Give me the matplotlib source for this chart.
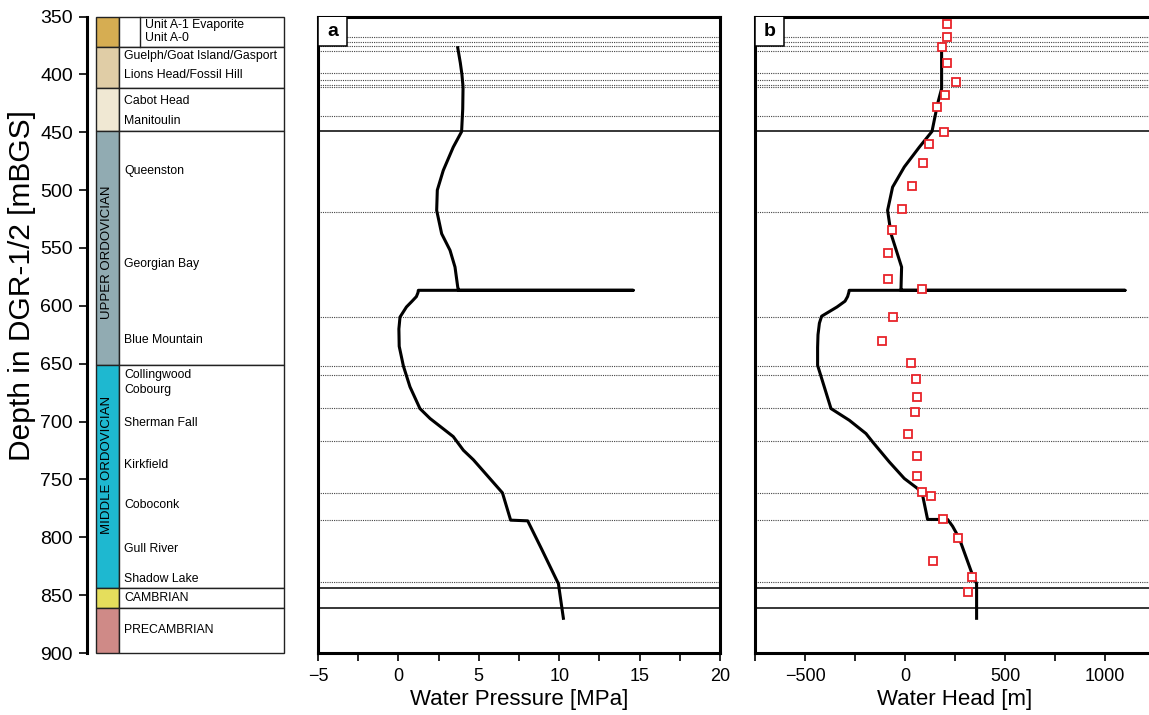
import matplotlib
matplotlib.use("Agg")
import matplotlib.pyplot as plt
from matplotlib.patches import Rectangle
from matplotlib.ticker import MultipleLocator

plt.rcParams['font.family'] = ['Liberation Sans', 'DejaVu Sans']

# ---------------- data ----------------
# stratigraphic units: (top, bottom, colour)
unit_tops = [350, 376, 412, 449, 651, 844, 861]
unit_bottoms = [376, 412, 449, 651, 844, 861, 900]
unit_colors = ['#D6AD52', '#E0CDA6', '#F0E8D3', '#91ABB2', '#1EB8D0', '#E5DE5C', '#CF8A87']

formation_names = ['Unit A-1 Evaporite', 'Unit A-0', 'Guelph/Goat Island/Gasport',
                   'Lions Head/Fossil Hill', 'Cabot Head', 'Manitoulin', 'Queenston',
                   'Georgian Bay', 'Blue Mountain', 'Collingwood', 'Cobourg',
                   'Sherman Fall', 'Kirkfield', 'Coboconk', 'Gull River',
                   'Shadow Lake', 'CAMBRIAN', 'PRECAMBRIAN']
formation_depths = [357, 368.4, 384.5, 400.7, 423.1, 440.4, 483.6, 563.6, 629.9,
                    659.7, 673, 701.2, 737.9, 772.2, 810.5, 836.4, 852.3, 880.2]

system_names = ['UPPER ORDOVICIAN', 'MIDDLE ORDOVICIAN']
system_depths = [553.8, 737.7]

# formation contacts drawn across both panels
solid_contacts = [449, 843.7, 861]
dotted_contacts = [368, 372, 375.6, 379.4, 398.6, 405.3, 409.5, 411, 436.1, 519,
                   609.7, 652, 659.4, 688.2, 716.4, 761.6, 785.2, 838.8]

# (a) simulated water pressure profile
pressure_depth = [377, 390, 400, 411, 430, 449.5, 462.9, 483, 500, 517.5, 537.7, 552,
                  566.5, 583.8, 586.6, 586.6, 586.6, 588.5, 592, 596, 601, 609.7, 620,
                  635, 652, 670, 688.8, 697.4, 713, 724.8, 733, 761.6, 785.2, 785.8,
                  810, 837, 840, 870]
pressure_mpa = [3.69, 3.85, 3.95, 4.02, 4.0, 3.93, 3.41, 2.79, 2.42, 2.38, 2.69, 3.21,
                3.52, 3.69, 3.75, 14.6, 1.24, 1.22, 1.12, 0.85, 0.5, 0.1, 0.03,
                0.05, 0.31, 0.72, 1.34, 1.97, 3.41, 4.04, 4.66, 6.47, 6.98, 8.04,
                8.9, 9.84, 9.95, 10.26]

# (b) simulated water head profile
head_depth = [379.4, 412.4, 425.4, 449.3, 462.9, 480, 497.4, 517.5, 537.7, 566.5,
              585.2, 586.6, 586.6, 586.6, 588.5, 592, 596, 601, 609, 615, 625, 636,
              651.4, 688.8, 698.9, 710.4, 717.6, 734.9, 749.2, 757.9, 763.7, 784.6,
              784.6, 790.5, 801, 832.8, 840, 870]
head_m = [183, 183, 163, 135, 71.5, -3.5, -62, -87, -70, -17, -20, -20, 1100, -279,
          -281, -287, -300, -340, -417, -428, -435, -437, -437, -370, -278.5, -195,
          -162, -78.5, -3.5, 63, 88, 113, 213, 238, 271.5, 338, 358, 358]

# (b) measured water heads
obs_depth = [356.9, 367.9, 376.5, 390, 406.7, 418, 428, 449.6, 460.3, 476.3, 496.5,
             516.7, 534.8, 554, 577, 585.2, 609.7, 630.6, 649.4, 662.9, 678.4, 691.7,
             710.7, 730.2, 747, 760.5, 764.5, 784.6, 801, 820.6, 834.1, 847.6]
obs_head = [208, 208, 187, 208, 253, 198, 160, 193, 120, 88, 33, -13.5, -67, -83.5,
            -83.5, 85, -62, -117, 28, 55, 58, 50, 16.5, 61.5, 61.5, 85, 128, 191.5,
            263, 141.5, 335, 316.5]

# ---------------- layout ----------------
W, H = 1149, 715
fig = plt.figure(figsize=(W / 100, H / 100), dpi=100)

top_px, bot_px = 16.5, 653


def axes_px(x0, x1):
    return fig.add_axes([x0 / W, 1 - bot_px / H, (x1 - x0) / W, (bot_px - top_px) / H])


SPINE_LW = 2.2
DEPTH_LIM = (900, 350)

# ---- stratigraphic column ----
axc = axes_px(87, 290)
axc.set_xlim(87, 290)
axc.set_ylim(*DEPTH_LIM)
for s in ['top', 'right', 'bottom']:
    axc.spines[s].set_visible(False)
axc.spines['left'].set_linewidth(SPINE_LW)
axc.set_xticks([])
axc.yaxis.set_major_locator(MultipleLocator(50))
axc.tick_params(axis='y', direction='out', length=6, width=1.2, labelsize=14, pad=4)
axc.set_ylabel('Depth in DGR-1/2 [mBGS]', fontsize=21.5)
axc.yaxis.set_label_coords(-0.25, 0.578)

strip_x0, strip_x1, box_x1 = 96, 119, 284
for t, b, c in zip(unit_tops, unit_bottoms, unit_colors):
    axc.add_patch(Rectangle((strip_x0, t), strip_x1 - strip_x0, b - t, facecolor=c,
                            edgecolor='#222222', lw=1.0, clip_on=False))
    axc.add_patch(Rectangle((strip_x1, t), box_x1 - strip_x1, b - t, facecolor='white',
                            edgecolor='#222222', lw=1.0, clip_on=False))
# small sub-cell beside Unit A
axc.plot([140, 140], [unit_tops[0], unit_bottoms[0]], color='#222222', lw=1.0, clip_on=False)

for name, d in zip(formation_names, formation_depths):
    x = 145 if name.startswith('Unit A') else 124
    axc.text(x, d, name, fontsize=8.8, va='center', ha='left')

for name, d in zip(system_names, system_depths):
    axc.text((strip_x0 + strip_x1) / 2, d, name, fontsize=9.5, rotation=90,
             va='center', ha='center')


def style_panel(ax, label, box_w_frac, box_h_frac):
    ax.set_ylim(*DEPTH_LIM)
    ax.tick_params(axis='y', left=False, labelleft=False)
    ax.tick_params(axis='x', which='both', direction='out', length=5.5, width=1.2,
                   labelsize=13, pad=5)
    for s in ax.spines.values():
        s.set_linewidth(SPINE_LW)
    for d in solid_contacts:
        ax.axhline(d, color='black', lw=1.1, zorder=1)
    for d in dotted_contacts:
        ax.axhline(d, color='#444444', lw=0.8, ls=(0, (1, 1)), zorder=1)
    ax.add_patch(Rectangle((0, 1 - box_h_frac), box_w_frac, box_h_frac,
                           transform=ax.transAxes, facecolor='white', edgecolor='black',
                           lw=1.1, zorder=4))
    ax.text(box_w_frac / 2, 1 - box_h_frac / 2, label, transform=ax.transAxes,
            fontsize=14, fontweight='bold', ha='center', va='center', zorder=5)


# ---- (a) water pressure ----
axa = axes_px(318, 720)
axa.set_xlim(-5, 20)
axa.xaxis.set_major_locator(MultipleLocator(5))
axa.xaxis.set_minor_locator(MultipleLocator(2.5))
style_panel(axa, 'a', 29 / 402, 29 / (bot_px - top_px))
axa.plot(pressure_mpa, pressure_depth, color='black', lw=2.2, zorder=3,
         solid_joinstyle='round')
axa.set_xlabel('Water Pressure [MPa]', fontsize=16, labelpad=3)

# ---- (b) water head ----
axb = axes_px(755, 1155)
axb.set_xlim(-750, 1250)
axb.xaxis.set_major_locator(MultipleLocator(500))
axb.xaxis.set_minor_locator(MultipleLocator(250))
style_panel(axb, 'b', 29 / 400, 29 / (bot_px - top_px))
axb.plot(head_m, head_depth, color='black', lw=2.2, zorder=3, solid_joinstyle='round')
axb.plot(obs_head, obs_depth, ls='none', marker='s', ms=6, mfc='white',
         mec='#E8232A', mew=1.3, zorder=4)
axb.set_xlabel('Water Head [m]', fontsize=16, labelpad=3)

fig.savefig('out.png', dpi=100)
